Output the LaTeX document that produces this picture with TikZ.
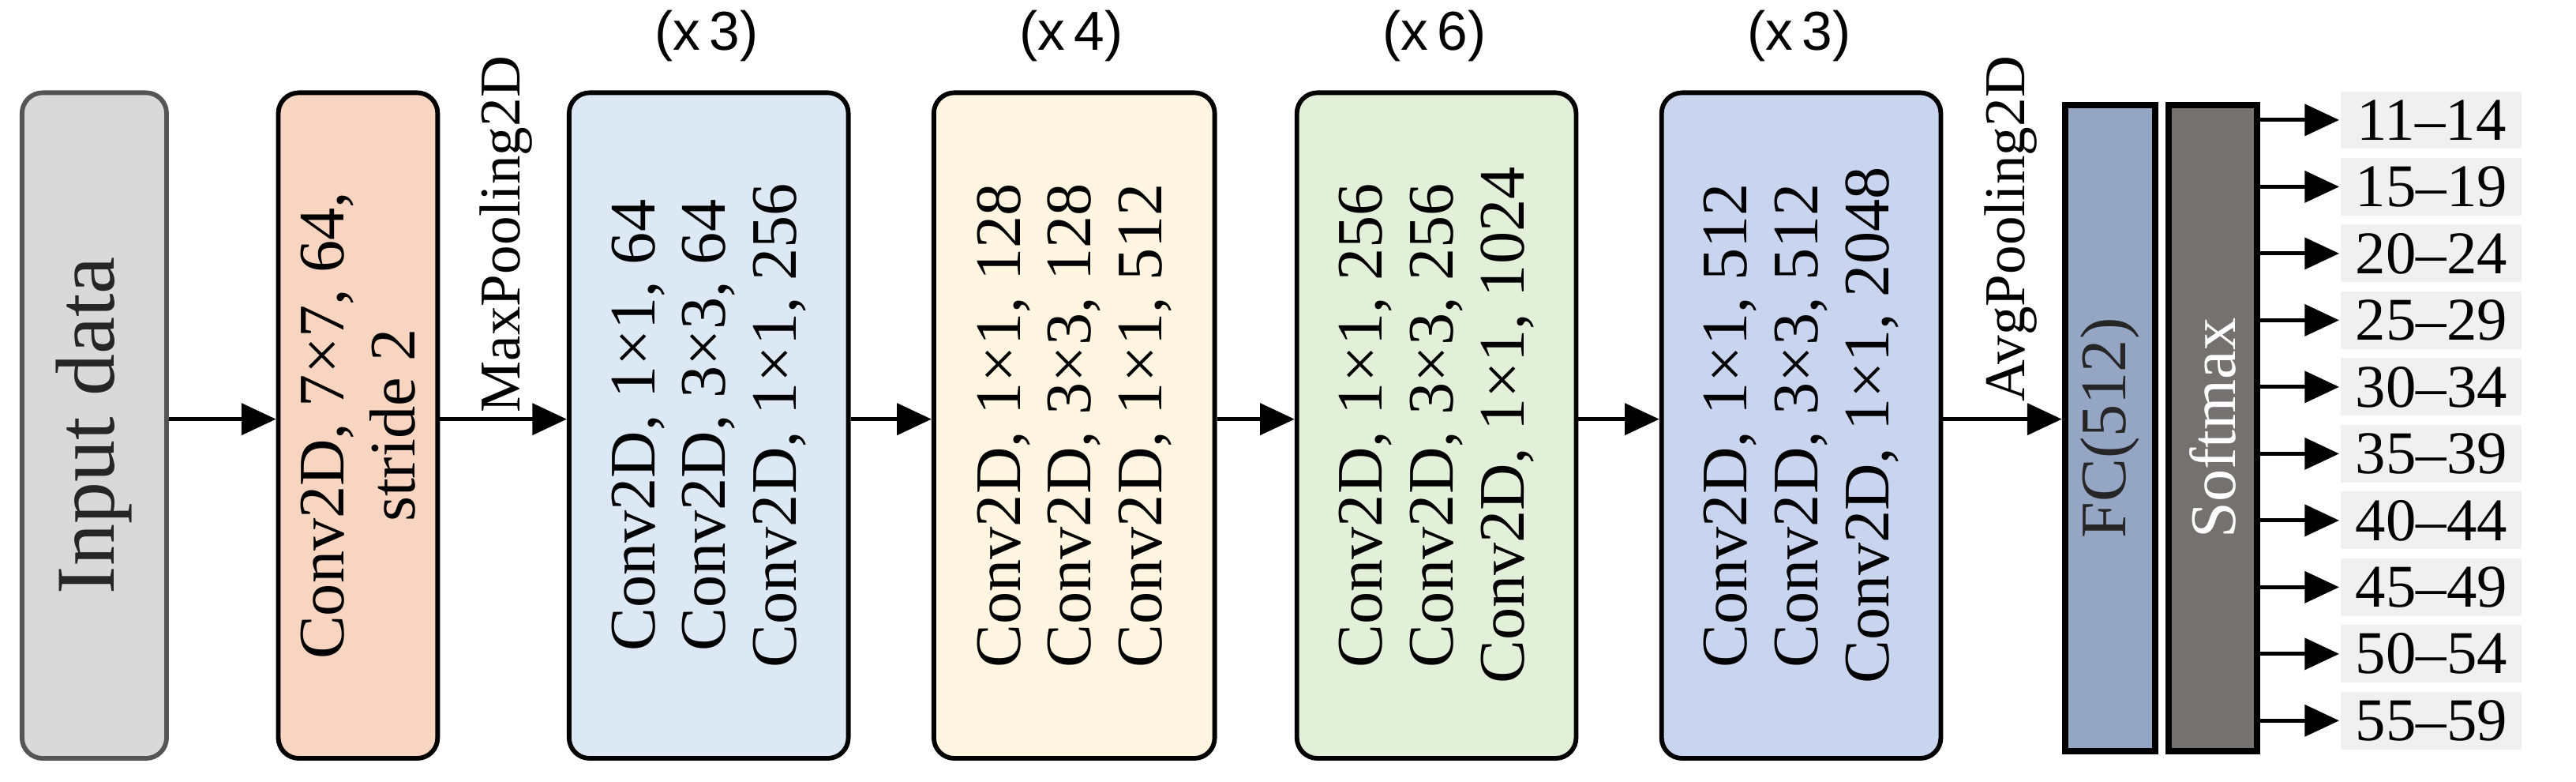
\documentclass[tikz,border=0pt]{standalone}
\usepackage{fontspec}
\setmainfont{Liberation Serif}
\newfontfamily\sansf{Liberation Sans}
\usetikzlibrary{arrows.meta}
\definecolor{cIn}{HTML}{D9D9D9}
\definecolor{cIn2}{HTML}{555555}
\definecolor{cConv}{HTML}{F8D5C0}
\definecolor{cB1}{HTML}{DDE8F5}
\definecolor{cB2}{HTML}{FFF5E0}
\definecolor{cB3}{HTML}{E2EFD9}
\definecolor{cB4}{HTML}{C9D5EF}
\definecolor{cFC}{HTML}{95A5C4}
\definecolor{cSM}{HTML}{767171}
\definecolor{cOut}{HTML}{F0F0F0}
\begin{document}
\begin{tikzpicture}[x=0.02cm,y=-0.02cm,
  box/.style={draw=black,line width=1.6pt,rounded corners=0.25cm,inner sep=0pt,anchor=north west},
  bar/.style={draw=black,line width=2.2pt,inner sep=0pt,anchor=north west},
  txt/.style={rotate=90,align=center,font=\fontsize{22.5}{24.5}\selectfont},
  lab/.style={rotate=90,font=\fontsize{20}{22}\selectfont},
  rep/.style={font=\sansf\fontsize{19}{22}\selectfont},
  arr/.style={line width=1.4pt,-{Triangle[length=0.42cm,width=0.38cm]}},
  outb/.style={fill=cOut,minimum width=2.2cm,minimum height=0.7cm,inner sep=0pt,font=\fontsize{21}{22}\selectfont}]
\useasboundingbox (0,0) rectangle (1568,475.5);
% boxes
\node[box,draw=cIn2,fill=cIn,minimum width=1.76cm,minimum height=8.1cm] (in) at (12,55) {};
\node[txt,font=\fontsize{29}{32}\selectfont,text=black!85] (intx) at (in.center) {Input data};
\node[box,fill=cConv,minimum width=1.94cm,minimum height=8.1cm] (c1) at (168,55) {};
\node[txt] (c1t) at (c1.center) {Conv2D, 7×7, 64,\\stride 2};
\node[box,fill=cB1,minimum width=3.4cm,minimum height=8.1cm] (b1) at (345,55) {};
\node[txt] (b1t) at (b1.center) {Conv2D, 1×1, 64\\Conv2D, 3×3, 64\\Conv2D, 1×1, 256};
\node[box,fill=cB2,minimum width=3.42cm,minimum height=8.1cm] (b2) at (567,55) {};
\node[txt] (b2t) at (b2.center) {Conv2D, 1×1, 128\\Conv2D, 3×3, 128\\Conv2D, 1×1, 512};
\node[box,fill=cB3,minimum width=3.4cm,minimum height=8.1cm] (b3) at (788,55) {};
\node[txt] (b3t) at (b3.center) {Conv2D, 1×1, 256\\Conv2D, 3×3, 256\\Conv2D, 1×1, 1024};
\node[box,fill=cB4,minimum width=3.4cm,minimum height=8.1cm] (b4) at (1010,55) {};
\node[txt] (b4t) at (b4.center) {Conv2D, 1×1, 512\\Conv2D, 3×3, 512\\Conv2D, 1×1, 2048};
% repeat labels
\node[rep] (r1) at (430,22) {(x\,3)};
\node[rep] (r2) at (652,22) {(x\,4)};
\node[rep] (r3) at (873,22) {(x\,6)};
\node[rep] (r4) at (1095,22) {(x\,3)};
% FC & softmax
\node[bar,fill=cFC,minimum width=1.1cm,minimum height=7.86cm] (fc) at (1255,62) {};
\node[txt,text=black!85] (fct) at (fc.center) {FC(512)};
\node[bar,fill=cSM,minimum width=1.08cm,minimum height=7.86cm] (sm) at (1318,62) {};
\node[txt,text=white] (smt) at (sm.center) {Softmax};
% pooling labels
\node[lab,anchor=east] (mp) at (308,28) {MaxPooling2D};
\node[lab,anchor=east] (ap) at (1224,28) {AvgPooling2D};
% main arrows
\draw[arr] (in.east |- 0,255) -- (c1.west |- 0,255);
\draw[arr] (c1.east |- 0,255) -- (b1.west |- 0,255);
\draw[arr] (b1.east |- 0,255) -- (b2.west |- 0,255);
\draw[arr] (b2.east |- 0,255) -- (b3.west |- 0,255);
\draw[arr] (b3.east |- 0,255) -- (b4.west |- 0,255);
\draw[arr] (b4.east |- 0,255) -- (fc.west |- 0,255);
% outputs
\foreach \t [count=\i from 0] in {11--14,15--19,20--24,25--29,30--34,35--39,40--44,45--49,50--54,55--59}{
  \node[outb] (o\i) at (1480,{73+\i*40.6}) {\t};
  \draw[arr] (sm.east |- o\i) -- ++(48,0);
}
\end{tikzpicture}
\end{document}
